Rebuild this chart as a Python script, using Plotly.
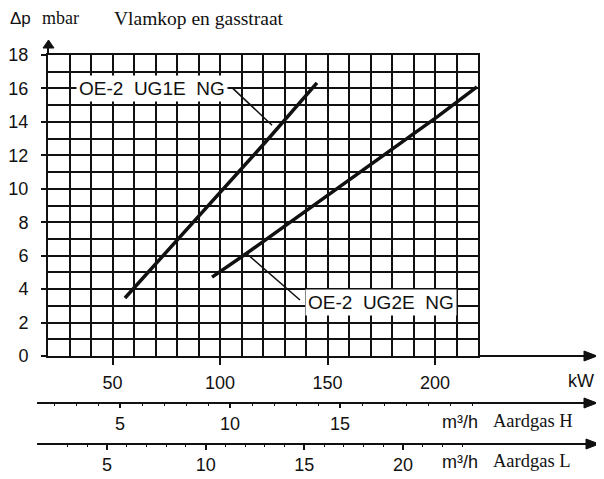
import plotly.graph_objects as go

# ---- data ----
kw_ticks = [50, 100, 150, 200]
dp_ticks = [0, 2, 4, 6, 8, 10, 12, 14, 16, 18]
h_ticks = [5, 10, 15]
l_ticks = [5, 10, 15, 20]

ug1e_kw = [55.8, 121.9, 145.1]
ug1e_dp = [3.47, 12.9, 16.33]
ug2e_kw = [96.3, 112.6, 201.0, 219.5]
ug2e_dp = [4.72, 6.16, 14.3, 16.09]

# ---- layout helpers (screen pixel -> paper); page body has an 8px margin ----
OFF = 8
W, H = 596, 471
PL, PR, PT, PB = 35, 600, 30, 474          # plotting box in screen pixels
PW, PH = PR - PL, PB - PT


def px(x):
    return (x - PL) / PW


def py(y):
    return (PB - y) / PH


SANS = "Liberation Sans"
SERIF = "Liberation Serif"
INK = "#111111"

fig = go.Figure()
fig.add_trace(go.Scatter(x=ug1e_kw, y=ug1e_dp, mode="lines",
                         line=dict(color=INK, width=3.5), showlegend=False, hoverinfo="skip"))
fig.add_trace(go.Scatter(x=ug2e_kw, y=ug2e_dp, mode="lines",
                         line=dict(color=INK, width=3.5), showlegend=False, hoverinfo="skip"))
# invisible traces to activate the secondary flow axes
fig.add_trace(go.Scatter(x=[5], y=[0], xaxis="x2", mode="markers", marker=dict(opacity=0),
                         showlegend=False, hoverinfo="skip"))
fig.add_trace(go.Scatter(x=[5], y=[0], xaxis="x3", mode="markers", marker=dict(opacity=0),
                         showlegend=False, hoverinfo="skip"))

xdom = [px(48), px(478)]
fig.update_layout(
    width=W, height=H,
    margin=dict(l=PL - OFF, r=OFF + W - PR, t=PT - OFF, b=OFF + H - PB, pad=0, autoexpand=False),
    paper_bgcolor="white", plot_bgcolor="white",
    xaxis=dict(domain=xdom, range=[20, 220], tickvals=kw_ticks, automargin=False,
               ticks="outside", ticklen=7, tickwidth=2, tickcolor=INK,
               showgrid=True, gridcolor=INK, gridwidth=1.6,
               minor=dict(dtick=10, tick0=20, showgrid=True, gridcolor=INK, gridwidth=1.6, ticks=""),
               showline=True, linecolor=INK, linewidth=2, mirror=True,
               zeroline=False, ticklabelstandoff=2,
               tickfont=dict(family=SANS, size=18, color=INK)),
    yaxis=dict(domain=[py(356), py(55)], range=[0, 18], tickvals=dp_ticks, automargin=False,
               ticks="outside", ticklen=5, tickwidth=2, tickcolor=INK,
               showgrid=True, gridcolor=INK, gridwidth=1.6,
               minor=dict(dtick=1, tick0=0, showgrid=True, gridcolor=INK, gridwidth=1.6, ticks=""),
               showline=True, linecolor=INK, linewidth=2, mirror=True,
               zeroline=False, ticklabelstandoff=9,
               tickfont=dict(family=SANS, size=18, color=INK)),
    xaxis2=dict(domain=xdom, range=[1.727, 21.27], overlaying="x", anchor="free", automargin=False,
                position=py(403), side="bottom", tickvals=h_ticks,
                ticks="outside", ticklen=4, tickwidth=1.5, tickcolor=INK,
                minor=dict(dtick=1, tick0=0, ticks="outside", ticklen=2, tickwidth=1.2, tickcolor=INK),
                showgrid=False, zeroline=False, showline=False, ticklabelstandoff=0,
                tickfont=dict(family=SANS, size=18, color=INK)),
    xaxis3=dict(domain=xdom, range=[2.01, 23.80], overlaying="x", anchor="free", automargin=False,
                position=py(444), side="bottom", tickvals=l_ticks,
                ticks="outside", ticklen=5, tickwidth=1.5, tickcolor=INK,
                minor=dict(dtick=1, tick0=0, ticks="outside", ticklen=2, tickwidth=1.2, tickcolor=INK),
                showgrid=False, zeroline=False, showline=False, ticklabelstandoff=-1,
                tickfont=dict(family=SANS, size=18, color=INK)),
)

shapes = []
# axis extensions
shapes.append(dict(type="line", xref="paper", yref="paper", x0=px(478), x1=px(588), y0=py(356), y1=py(356),
                   line=dict(color=INK, width=2)))
shapes.append(dict(type="line", xref="paper", yref="paper", x0=px(37), x1=px(588), y0=py(403), y1=py(403),
                   line=dict(color=INK, width=2)))
shapes.append(dict(type="line", xref="paper", yref="paper", x0=px(37), x1=px(590), y0=py(444), y1=py(444),
                   line=dict(color=INK, width=2)))
shapes.append(dict(type="line", xref="paper", yref="paper", x0=px(48), x1=px(48), y0=py(55), y1=py(46),
                   line=dict(color=INK, width=2)))


def tri(pts):
    d = "M " + " L ".join(f"{px(a)},{py(b)}" for a, b in pts) + " Z"
    return dict(type="path", xref="paper", yref="paper", path=d, fillcolor=INK,
                line=dict(color=INK, width=1))


shapes.append(tri([(597, 356), (584, 351), (584, 361)]))
shapes.append(tri([(597, 403), (584, 398), (584, 408)]))
shapes.append(tri([(599, 444), (586, 439), (586, 449)]))
shapes.append(tri([(48.5, 40), (43, 48), (54, 48)]))

# leader lines
shapes.append(dict(type="line", xref="x", yref="y", x0=105.6, y0=16.05, x1=124.2, y1=13.8,
                   line=dict(color=INK, width=1.5)))
shapes.append(dict(type="line", xref="x", yref="y", x0=112.6, y0=6.1, x1=137.2, y1=3.35,
                   line=dict(color=INK, width=1.5)))
fig.update_layout(shapes=shapes)

ann = []
ann.append(dict(x=68.5, y=16, xref="x", yref="y", text="OE-2  UG1E  NG", showarrow=False,
                font=dict(family=SANS, size=19, color=INK), bgcolor="white", borderpad=2,
                xanchor="center", yanchor="middle"))
ann.append(dict(x=175, y=3.2, xref="x", yref="y", text="OE-2  UG2E  NG", showarrow=False,
                font=dict(family=SANS, size=19, color=INK), bgcolor="white", borderpad=2,
                xanchor="center", yanchor="middle"))


def label(x, y, text, family, size, xanchor="left"):
    ann.append(dict(x=px(x), y=py(y), xref="paper", yref="paper", text=text, showarrow=False,
                    font=dict(family=family, size=size, color=INK), xanchor=xanchor, yanchor="middle"))


label(8, 18, "Δp", SANS, 17)
label(40, 18, "mbar", SERIF, 18)
label(112, 18, "Vlamkop en gasstraat", SERIF, 19.5)
label(596, 381, "kW", SANS, 18, xanchor="right")
label(440, 422, "m³/h", SANS, 18)
label(491, 421, "Aardgas H", SERIF, 18.5)
label(440, 462, "m³/h", SANS, 18)
label(491, 461, "Aardgas L", SERIF, 18.5)
fig.update_layout(annotations=ann)

fig.write_html("out.html")
